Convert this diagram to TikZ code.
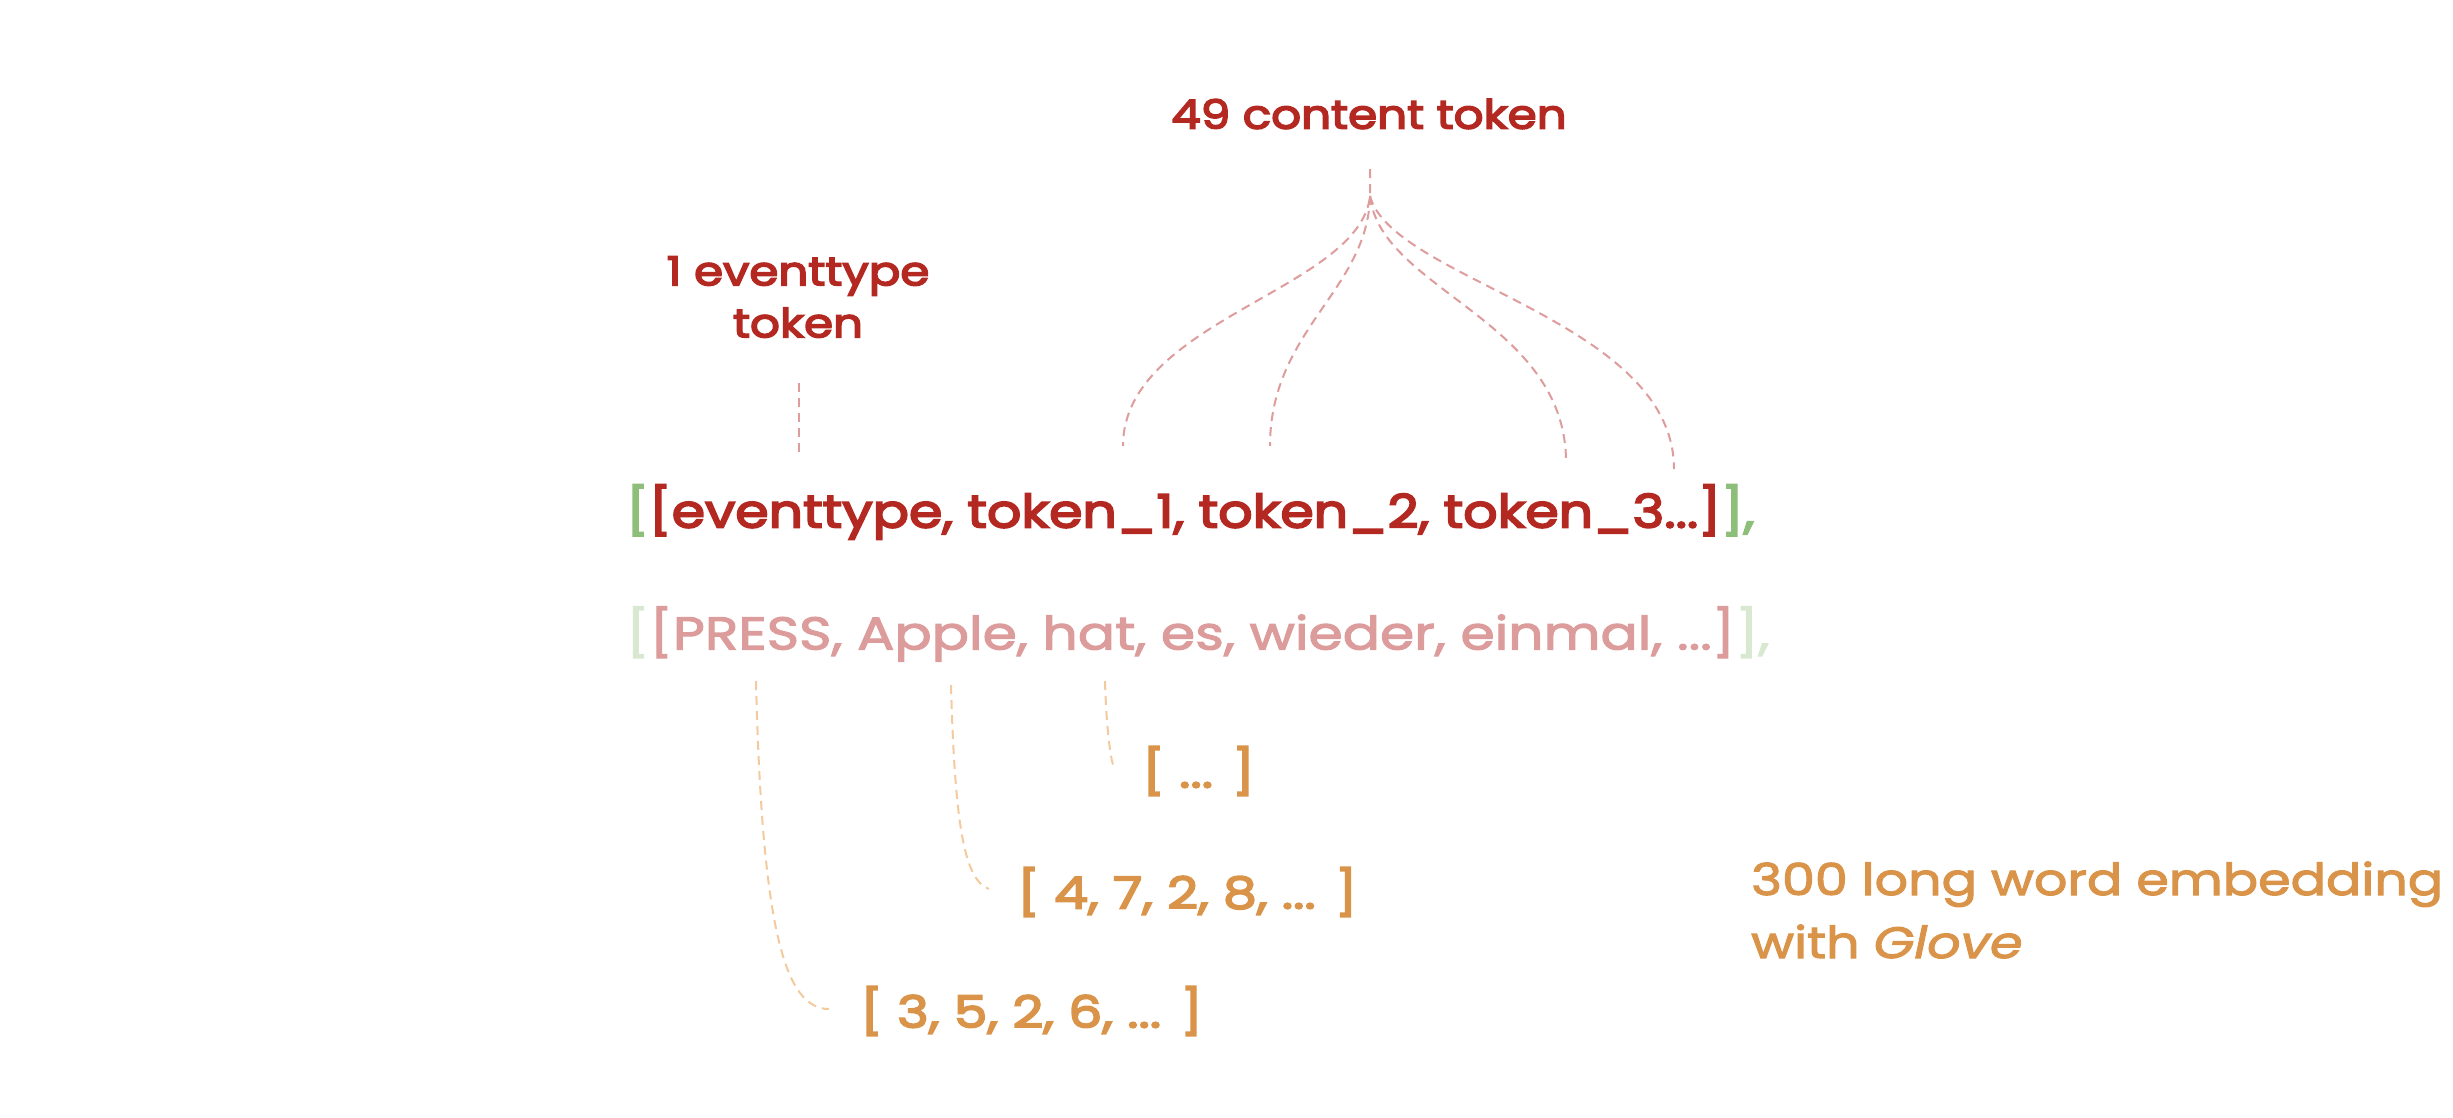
\documentclass[tikz,border=0pt]{standalone}
\usepackage{fontspec}
\setmainfont{Poppins}
\newfontfamily\fsemi{Poppins}[FakeBold=4, FakeStretch=1.17]
\newfontfamily\fmed{Poppins}[FakeBold=2.5, FakeStretch=1.2]
\newfontfamily\fvec{Poppins}[FakeBold=4, FakeStretch=1.22]
\newfontfamily\fnote{Poppins}[FakeBold=2.5, FakeStretch=1.19]
\usetikzlibrary{calc}
\definecolor{dred}{HTML}{B32821}
\definecolor{pinkc}{HTML}{DD9C9C}
\definecolor{grn}{HTML}{8DBF7B}
\definecolor{lgrn}{HTML}{D9E8D0}
\definecolor{orng}{HTML}{D9944A}
\definecolor{lorng}{HTML}{F2CA9E}
\definecolor{rline}{HTML}{DE9C9C}
\tikzset{
  lbl/.style={inner sep=0pt, font=\fsemi\fontsize{40}{52}\selectfont, text=dred, align=center},
  rowone/.style={inner sep=0pt, anchor=west, font=\fsemi\fontsize{46}{52}\selectfont},
  rowtwo/.style={inner sep=0pt, anchor=west, font=\fmed\fontsize{46}{52}\selectfont},
  vec/.style={inner sep=0pt, anchor=west, font=\fvec\fontsize{44}{52}\selectfont, text=orng},
  note/.style={inner sep=0pt, anchor=west, font=\fnote\fontsize{44}{63}\selectfont, text=orng, align=left},
  rdash/.style={draw=rline, line width=2pt, dash pattern=on 9pt off 6pt},
  odash/.style={draw=lorng, line width=2pt, dash pattern=on 9pt off 6pt}
}
\begin{document}
\begin{tikzpicture}[x=1pt,y=-1pt]
\useasboundingbox (0,0) rectangle (2453,1117);
% labels
\node[lbl] (cont) at (1369,114) {49 content token};
\node[lbl] (evt) at (798,297) {1 eventtype\\token};
% rows
\node[rowone, text=dred] (row1) at (626,512) {{\color{grn}[}[eventtype, token\_1, token\_2, token\_3...]{\color{grn}],}};
\node[rowtwo, text=pinkc] (row2) at (626,634) {{\color{lgrn}[}[PRESS, Apple, hat, es, wieder, einmal, ...]{\color{lgrn}],}};
% vectors
\node[vec] (v3) at (1142,771) {[ ... ]};
\node[vec] (v2) at (1017,892) {[ 4, 7, 2, 8, ... ]};
\node[vec] (v1) at (860,1011) {[ 3, 5, 2, 6, ... ]};
\node[note] (emb) at (1751,910) {300 long word embedding\\with \textit{Glove}};
% coordinates
\coordinate (cs) at (1370,169);
\coordinate (cj) at (1370,196);
\coordinate (t1) at (1123,446);
\coordinate (t2) at (1270,446);
\coordinate (t3) at (1566,462);
\coordinate (t4) at (1674,469);
\coordinate (es) at (799,383);
\coordinate (ee) at (799,454);
\coordinate (p1) at (756,681);
\coordinate (p2) at (951,685);
\coordinate (p3) at (1105,681);
\coordinate (q1) at (829,1009);
\coordinate (q2) at (989,889);
\coordinate (q3) at (1114,767);
% red dashed connectors
\draw[rdash] (es) -- (ee);
\draw[rdash] (cs) -- (cj) .. controls (1360,290) and (1123,320) .. (t1);
\draw[rdash] (cj) .. controls (1368,290) and (1270,330) .. (t2);
\draw[rdash] (cj) .. controls (1380,290) and (1566,320) .. (t3);
\draw[rdash] (cj) .. controls (1392,280) and (1674,320) .. (t4);
% orange dashed connectors
\draw[odash] (p1) .. controls (762,930) and (785,1009) .. (q1);
\draw[odash] (p2) .. controls (955,830) and (965,880) .. (q2);
\draw[odash] (p3) .. controls (1106,720) and (1110,760) .. (q3);
\end{tikzpicture}
\end{document}
